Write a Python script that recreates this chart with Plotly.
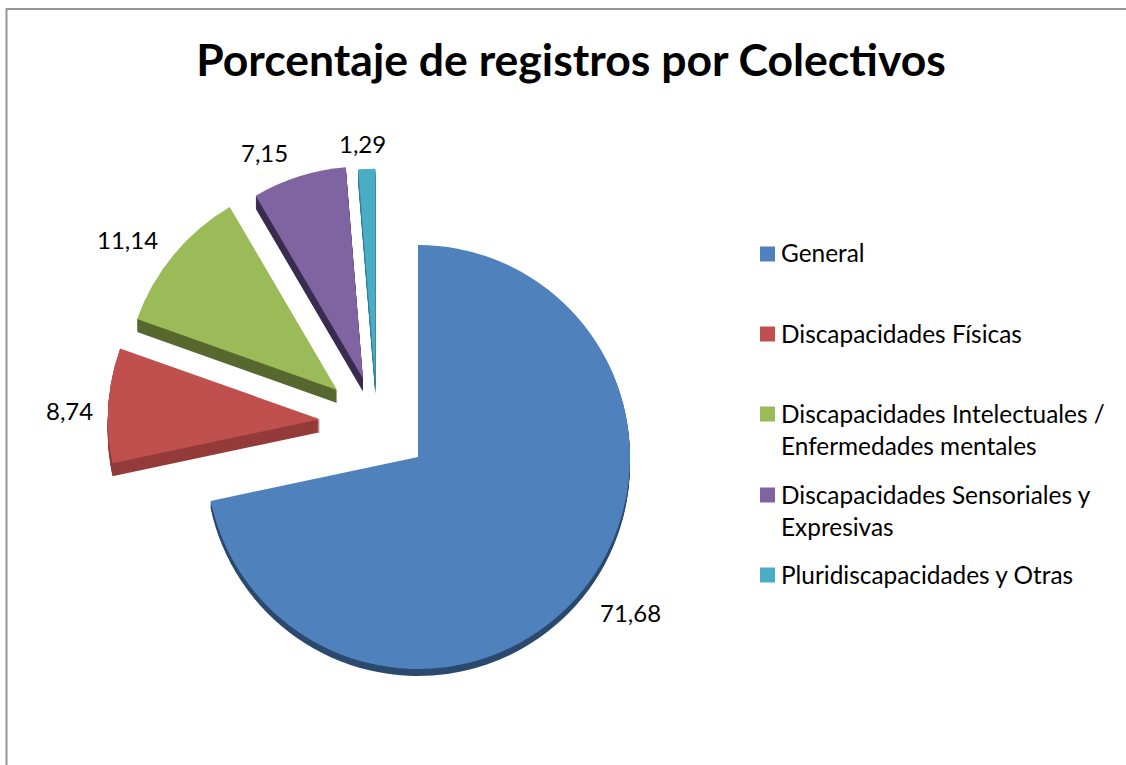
import plotly.graph_objects as go

categories = ["General", "Discapacidades Físicas",
              "Discapacidades Intelectuales /<br>Enfermedades mentales",
              "Discapacidades Sensoriales y<br>Expresivas",
              "Pluridiscapacidades y Otras"]
values = [71.68, 8.74, 11.14, 7.15, 1.29]
labels_txt = ["71,68", "8,74", "11,14", "7,15", "1,29"]
colors = ["#4F81BD", "#C0504D", "#9BBB59", "#8064A2", "#4BACC6"]
dark = ["#2C4A6E", "#943C3A", "#58682F", "#3A2C50", "#2F7F94"]
NONE = "rgba(0,0,0,0)"

W, H = 1126, 765
FONT = "Lato"
main_c, main_r = (418, 457), 212
pull_c, pull_r = (377, 423), 212
pulls = [0, 0.27, 0.245, 0.22, 0.20]
label_pos = [(630, 612), (69, 410), (127, 239), (264, 153), (362, 143)]
legend_y = [253, 333, 429, 510, 574]

def px(x):
    return x / W

def py(y):
    return 1 - y / H

def dom(c, R, dy=0):
    return dict(x=[px(c[0] - R), px(c[0] + R)], y=[py(c[1] + R + dy), py(c[1] - R + dy)])

def pie(cols, c, r, pull, dy=0):
    R = r * (1 + max(pull))
    return go.Pie(values=values, labels=categories, sort=False, direction="clockwise", rotation=0,
                  pull=pull, domain=dom(c, R, dy),
                  marker=dict(colors=cols, line=dict(width=0)),
                  textinfo="none", showlegend=False, hoverinfo="skip")

fig = go.Figure()
main_dark = [dark[0]] + [NONE] * 4
main_col = [colors[0]] + [NONE] * 4
rest_dark = [NONE] + dark[1:]
rest_col = [NONE] + colors[1:]
no_pull = [0] * 5
for dy in range(7, 0, -1):
    fig.add_trace(pie(main_dark, main_c, main_r, no_pull, dy))
fig.add_trace(pie(main_col, main_c, main_r, no_pull))
for dy in range(13, 0, -1):
    fig.add_trace(pie(rest_dark, pull_c, pull_r, pulls, dy))
fig.add_trace(pie(rest_col, pull_c, pull_r, pulls))

shapes = [dict(type="rect", xref="paper", yref="paper", x0=px(6.5), x1=1.01, y0=-0.01, y1=py(9),
               line=dict(color="#969696", width=2), fillcolor=NONE)]
annotations = []
for txt, (x, y) in zip(labels_txt, label_pos):
    annotations.append(dict(text=txt, x=px(x), y=py(y), xref="paper", yref="paper",
                            xanchor="center", yanchor="middle", showarrow=False,
                            font=dict(family=FONT, size=24, color="#000")))
for name, col, y in zip(categories, colors, legend_y):
    off = 15 if "<br>" in name else -1
    shapes.append(dict(type="rect", xref="paper", yref="paper", x0=px(760), x1=px(775),
                       y0=py(y - off + 7.5), y1=py(y - off - 7.5),
                       fillcolor=col, line=dict(width=0)))
    annotations.append(dict(text=name, x=px(779), y=py(y), xref="paper", yref="paper",
                            xanchor="left", yanchor="middle", align="left", showarrow=False,
                            font=dict(family=FONT, size=24.4, color="#000")))

fig.update_layout(width=W, height=H, margin=dict(l=0, r=0, t=0, b=0, autoexpand=False), paper_bgcolor="white",
                  showlegend=False, shapes=shapes, annotations=annotations,
                  title=dict(text="<b>Porcentaje de registros por Colectivos</b>", x=px(571), xanchor="center",
                             y=py(60), yanchor="middle", font=dict(family=FONT, size=44.5, color="#000")))
fig.write_html("out.html", config=dict(displayModeBar=False), post_script="document.body.style.margin='0';")
